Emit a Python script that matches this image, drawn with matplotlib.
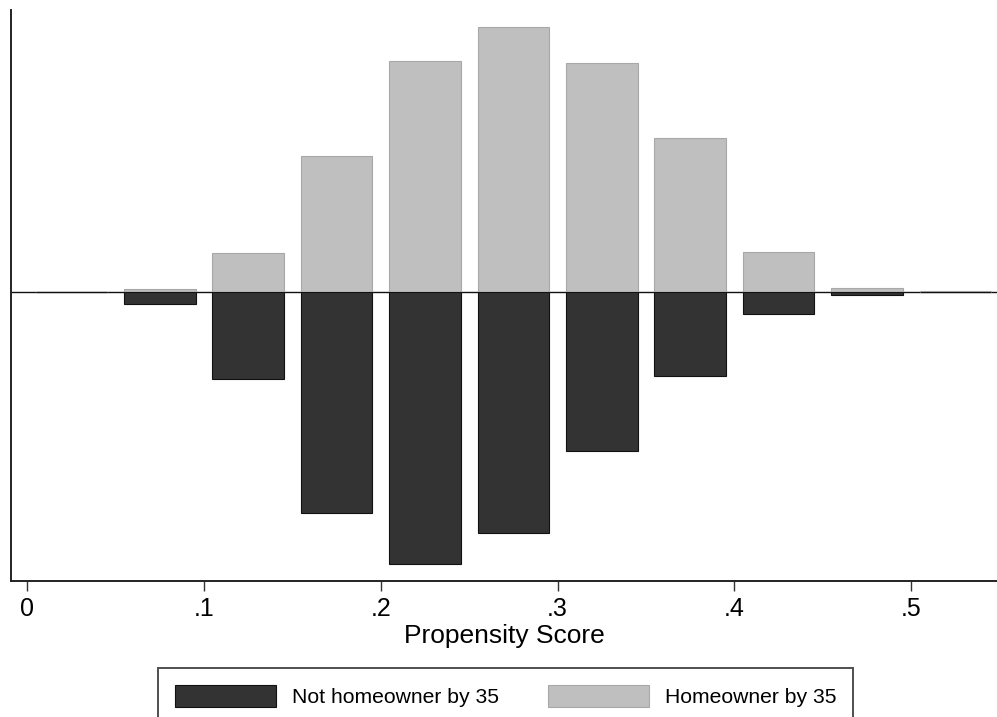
import matplotlib
matplotlib.use("Agg")
import matplotlib.pyplot as plt
from matplotlib.patches import Patch

plt.rcParams['font.family'] = ['Liberation Sans', 'DejaVu Sans']

# Bin centers of propensity score
bin_centers = [0.025, 0.075, 0.125, 0.175, 0.225, 0.275, 0.325, 0.375, 0.425, 0.475, 0.525]
# Density (upward) for homeowners by 35
homeowner = [0.0, 0.07, 0.79, 2.72, 4.61, 5.31, 4.59, 3.08, 0.80, 0.08, 0.02]
# Density (plotted downward) for non-homeowners by 35
not_homeowner = [0.0, 0.23, 1.74, 4.41, 5.44, 4.82, 3.18, 1.68, 0.44, 0.05, 0.0]

xticks = [0, 0.1, 0.2, 0.3, 0.4, 0.5]
xticklabels = ['0', '.1', '.2', '.3', '.4', '.5']

dark = '#333333'
light = '#bfbfbf'

fig = plt.figure(figsize=(9.97, 7.17), dpi=100)
ax = fig.add_axes([11/997, 1 - 581/717, 1 - 11/997, (581 - 10)/717])

bw = 0.0405
ax.bar(bin_centers, homeowner, width=bw, color=light, edgecolor='#a8a8a8', linewidth=0.8, zorder=2)
ax.bar(bin_centers, [-v for v in not_homeowner], width=bw, color=dark, edgecolor='#111111', linewidth=0.8, zorder=2)
ax.axhline(0, color='#111111', linewidth=1.0, zorder=1)

ax.set_xlim(-0.0092, 0.5485)
ax.set_ylim(-5.78, 5.64)

ax.set_xticks(xticks)
ax.set_xticklabels(xticklabels, fontsize=18)
ax.set_yticks([])
ax.tick_params(axis='x', length=7.5, width=1.0, color='#333333', pad=4)
for s in ['top', 'right']:
    ax.spines[s].set_visible(False)
for s in ['left', 'bottom']:
    ax.spines[s].set_linewidth(1.4)
    ax.spines[s].set_color('#222222')

ax.set_xlabel('Propensity Score', fontsize=19, labelpad=2)

handles = [Patch(facecolor=dark, edgecolor='#111111', linewidth=0.8),
           Patch(facecolor=light, edgecolor='#a8a8a8', linewidth=0.8)]
leg = fig.legend(handles, ['Not homeowner by 35', 'Homeowner by 35'],
                 loc='upper left', bbox_to_anchor=(158/997, 1 - 668/717),
                 ncol=2, fontsize=15.2, frameon=True, fancybox=False,
                 handlelength=4.8, handleheight=1.25, handletextpad=0.75,
                 columnspacing=2.3, borderpad=0.8, borderaxespad=0)
leg.get_frame().set_edgecolor('#222222')
leg.get_frame().set_linewidth(1.4)

fig.savefig('out.png', dpi=100)
